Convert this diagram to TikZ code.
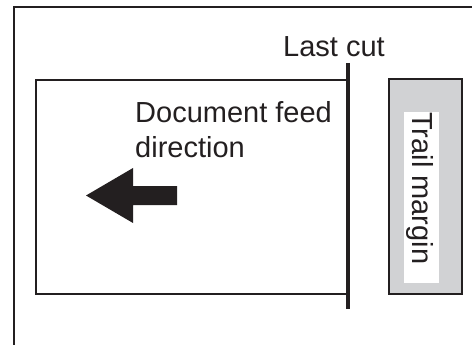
\documentclass[tikz,border=0pt]{standalone}
\usepackage{fontspec}
\setmainfont{Liberation Sans}
\definecolor{ink}{HTML}{231F20}
\definecolor{margingray}{HTML}{D1D2D4}

\begin{document}
\begin{tikzpicture}[x=1pt, y=-1pt, font=\fontsize{29}{35}\selectfont, text=ink,
  label/.style={inner sep=0pt}]
  \useasboundingbox (0,0) rectangle (472,345);
  % outer frame, open to the right and the bottom
  \draw[ink, line width=1.2pt] (14,345)--(14,7)--(472,7);
  % document
  \draw[ink, line width=1.3pt] (36,80) rectangle (347,294);
  \draw[ink, line width=4.5pt] (348,63)--(348,309);
  \node[label, anchor=base west] (lastcut) at (283,57) {Last cut};
  \node[label, anchor=north west, align=left] (feed) at (135,101) {Document feed\\direction};
  \fill[ink] (86,195.5)--(133,168)--(133,186)--(177,186)--(177,205)--(133,205)--(133,223)--cycle;
  % trail margin
  \draw[ink, line width=1.3pt, fill=margingray] (389,79) rectangle (462,294);
  \fill[white] (404,112) rectangle (439,283);
  \node[label, rotate=-90, anchor=base west] (trail) at (412,112) {Trail margin};
\end{tikzpicture}
\end{document}
